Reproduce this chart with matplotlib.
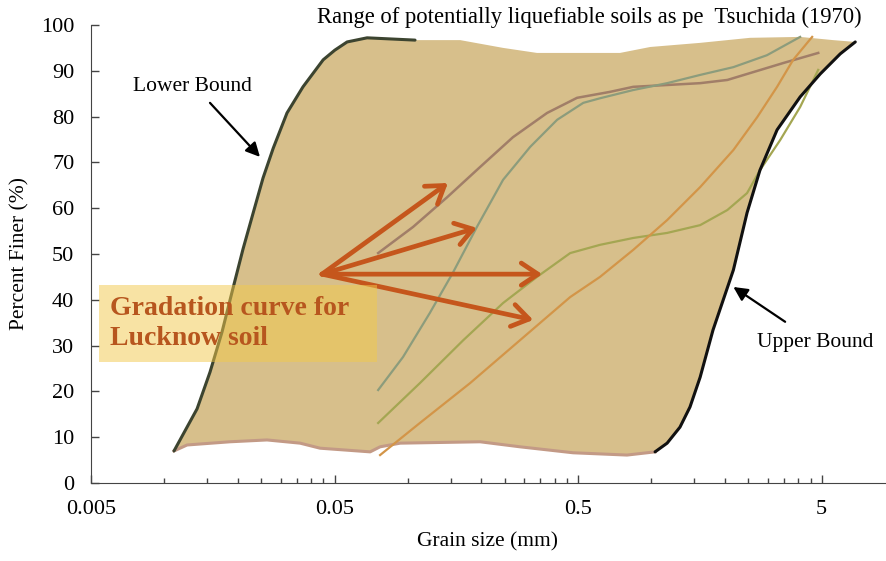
import matplotlib.pyplot as plt
import numpy as np
from matplotlib.patches import Rectangle
from matplotlib.ticker import FixedLocator, NullFormatter

plt.rcParams["font.family"] = ["Liberation Serif", "DejaVu Serif"]

# Tsuchida (1970) band boundaries
lower_x = [0.01096, 0.01363, 0.0154, 0.01726, 0.01897, 0.02105, 0.0236, 0.02543,
           0.0280, 0.0319, 0.0371, 0.0449, 0.0501, 0.0563, 0.068, 0.107]
lower_y = [7.0, 16.2, 24.2, 33.0, 41.7, 51.1, 60.5, 66.6, 73.1, 80.8, 86.5, 92.4,
           94.5, 96.3, 97.2, 96.7]

upper_x = [1.035, 1.16, 1.31, 1.44, 1.585, 1.79, 2.17, 2.47, 2.79, 3.28, 4.08, 4.93,
           5.96, 6.87]
upper_y = [6.8, 8.7, 12.2, 16.6, 23.1, 33.4, 46.5, 59.0, 68.3, 77.1, 84.3, 89.3,
           93.7, 96.3]

top_x = [0.164, 0.246, 0.339, 0.743, 0.989, 1.585, 2.54, 4.08, 5.57]
top_y = [96.7, 95.0, 93.9, 93.9, 95.2, 96.1, 97.2, 97.4, 96.7]

bottom_x = [0.01096, 0.0124, 0.0186, 0.0264, 0.0361, 0.0436, 0.070, 0.0769, 0.093,
            0.198, 0.289, 0.477, 0.794, 1.035]
bottom_y = [7.0, 8.3, 9.0, 9.4, 8.7, 7.6, 6.8, 7.9, 8.7, 9.0, 7.9, 6.6, 6.1, 6.8]

# Lucknow soil gradation curves
brown_x = [0.0755, 0.105, 0.145, 0.198, 0.270, 0.373, 0.495, 0.676, 0.842, 1.16,
           1.585, 2.05, 2.54, 3.48, 4.84]
brown_y = [50.2, 55.9, 62.4, 69.0, 75.5, 80.8, 84.1, 85.4, 86.5, 86.9, 87.3, 88.0,
           89.5, 91.7, 93.9]

grey_x = [0.0755, 0.0955, 0.123, 0.153, 0.192, 0.246, 0.318, 0.410, 0.525, 0.615,
          0.842, 1.16, 1.585, 2.17, 2.98, 4.08]
grey_y = [20.3, 27.5, 37.1, 45.9, 55.9, 66.2, 73.4, 79.3, 83.0, 84.0, 85.8, 87.3,
          89.1, 90.8, 93.4, 97.4]

olive_x = [0.0755, 0.112, 0.169, 0.246, 0.339, 0.464, 0.615, 0.842, 1.16, 1.585,
           2.05, 2.47, 2.79, 3.38, 4.08, 4.84]
olive_y = [13.1, 21.8, 31.2, 39.3, 45.0, 50.2, 52.0, 53.5, 54.6, 56.3, 59.6, 63.3,
           68.3, 74.9, 82.1, 90.2]

orange_x = [0.0769, 0.112, 0.180, 0.289, 0.464, 0.615, 0.842, 1.16, 1.585, 2.17,
            2.72, 3.28, 3.82, 4.57]
orange_y = [6.1, 13.1, 21.8, 31.2, 40.6, 45.0, 50.9, 57.4, 64.6, 72.7, 79.9, 86.5,
            92.4, 97.4]

# pointer arrows
arrow_origin = (0.0444, 45.6)
arrow_tips_x = [0.146, 0.192, 0.356, 0.327]
arrow_tips_y = [65.5, 55.7, 45.6, 35.6]

major_ticks = [0.005, 0.05, 0.5, 5]
major_labels = ["0.005", "0.05", "0.5", "5"]

fig = plt.figure(figsize=(8.87, 5.61), dpi=100)
ax = fig.add_axes([91 / 887, 78 / 561, 794 / 887, 458 / 561])
ax.set_xscale("log")

poly_x = np.concatenate([lower_x, top_x, upper_x[::-1], bottom_x[::-1]])
poly_y = np.concatenate([lower_y, top_y, upper_y[::-1], bottom_y[::-1]])
ax.fill(poly_x, poly_y, color="#D7BF8B", lw=0, zorder=1)

ax.plot(bottom_x, bottom_y, color="#C39A86", lw=2.2, zorder=2)
ax.plot(brown_x, brown_y, color="#A17E68", lw=1.8, zorder=3)
ax.plot(grey_x, grey_y, color="#8C9C7C", lw=1.6, zorder=3)
ax.plot(olive_x, olive_y, color="#A4A652", lw=1.6, zorder=3)
ax.plot(orange_x, orange_y, color="#D39548", lw=1.6, zorder=3)
ax.plot(lower_x, lower_y, color="#3C4430", lw=2.2, zorder=4,
        solid_joinstyle="round", solid_capstyle="round")
ax.plot(upper_x, upper_y, color="#111111", lw=2.2, zorder=4,
        solid_joinstyle="round", solid_capstyle="round")

for tx, ty in zip(arrow_tips_x, arrow_tips_y):
    ax.annotate("", xy=(tx, ty), xytext=arrow_origin,
                arrowprops=dict(arrowstyle="->,head_length=0.6,head_width=0.4",
                                color="#C5561C", lw=3.4, mutation_scale=20,
                                shrinkA=0, shrinkB=0), zorder=5)

ax.add_patch(Rectangle((0.010, 0.264), 0.350, 0.168, transform=ax.transAxes,
                       facecolor="#F2C94A", alpha=0.5, lw=0, zorder=6))
ax.text(0.024, 0.349, "Gradation curve for\nLucknow soil", transform=ax.transAxes,
        fontsize=20, fontweight="bold", color="#B7561E", va="center", ha="left",
        linespacing=1.25, zorder=7)

ax.annotate("", xy=(0.0247, 71.2), xytext=(0.0154, 83.0),
            arrowprops=dict(arrowstyle="-|>,head_length=0.6,head_width=0.3",
                            color="black", lw=1.6, mutation_scale=14,
                            shrinkA=0, shrinkB=0), zorder=6)
ax.text(0.0131, 86.5, "Lower Bound", fontsize=15.5, ha="center", va="center", zorder=6)

ax.annotate("", xy=(2.17, 42.8), xytext=(3.54, 35.2),
            arrowprops=dict(arrowstyle="-|>,head_length=0.6,head_width=0.3",
                            color="black", lw=1.6, mutation_scale=14,
                            shrinkA=0, shrinkB=0), zorder=6)
ax.text(4.70, 30.6, "Upper Bound", fontsize=15.5, ha="center", va="center", zorder=6)

ax.text(0.628, 1.016, "Range of potentially liquefiable soils as pe  Tsuchida (1970)",
        transform=ax.transAxes, fontsize=16.3, ha="center", va="center")

ax.set_xlim(0.005, 9.1)
ax.set_ylim(0, 100)
ax.set_yticks(np.arange(0, 101, 10))
ax.xaxis.set_major_locator(FixedLocator(major_ticks))
ax.set_xticklabels(major_labels)
minor = [0.005 * k * 10 ** n for n in range(4) for k in range(2, 10)]
ax.xaxis.set_minor_locator(FixedLocator(minor))
ax.xaxis.set_minor_formatter(NullFormatter())

ax.tick_params(axis="both", which="major", direction="in", length=6, width=1,
               labelsize=16, color="#444444")
ax.tick_params(axis="x", which="minor", direction="in", length=3.5, width=1,
               color="#444444")
ax.tick_params(axis="y", pad=12)
ax.tick_params(axis="x", pad=12)

for side in ["top", "right"]:
    ax.spines[side].set_visible(False)
for side in ["left", "bottom"]:
    ax.spines[side].set_color("#444444")

ax.set_xlabel("Grain size (mm)", fontsize=15.5, labelpad=10)
ax.set_ylabel("Percent Finer (%)", fontsize=15.5, labelpad=8)

fig.savefig("out.png", dpi=100)
